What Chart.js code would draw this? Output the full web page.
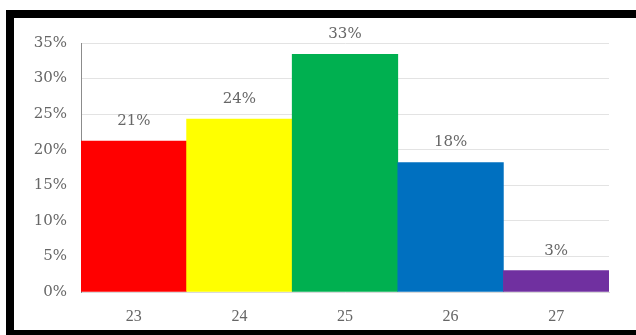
<!DOCTYPE html>
<html>
<head>
<meta charset="utf-8">
<script src="https://cdn.jsdelivr.net/npm/chart.js@4"></script>
<style>
  html, body { margin: 0; padding: 0; background: #fff; overflow: hidden; }
  /* black frame: top, left and bottom edges, right side runs off the picture */
  #frame {
    position: absolute;
    left: 6px; top: 10px;
    width: 640px; height: 328px;
    box-sizing: border-box;
    border: 8px solid #000;
    border-right: none;
    background: #fff;
  }
  #myChart { display: block; }
</style>
</head>
<body>
<div id="frame">
  <canvas id="myChart" width="622" height="312"></canvas>
</div>
<script>
// data
const ages = ["23", "24", "25", "26", "27"];          // x-axis categories
const shares = [21.2, 24.3, 33.4, 18.2, 3.0];         // percent per category
const shareLabels = ["21%", "24%", "33%", "18%", "3%"]; // labels printed above bars
const barColors = ["#ff0000", "#ffff00", "#00b050", "#0070c0", "#7030a0"];
const yMax = 35;
const yStep = 5;

const textColor = "#666666";
// the percent texts in the picture are wide, DejaVu Serif gets closest
const pctFont = "'DejaVu Serif', serif";
const catFont = "'Liberation Serif', 'Times New Roman', serif";

// writes the percent label above each bar
const barLabels = {
    id: "barLabels",
    afterDatasetsDraw(chart) {
        const ctx = chart.ctx;
        const meta = chart.getDatasetMeta(0);
        ctx.save();
        ctx.font = "15px " + pctFont;
        ctx.fillStyle = textColor;
        ctx.textAlign = "center";
        ctx.textBaseline = "middle";
        meta.data.forEach((bar, i) => {
            ctx.fillText(shareLabels[i], bar.x, bar.y - 20);
        });
        ctx.restore();
    }
};

const config = {
    type: "bar",
    data: {
        labels: ages,
        datasets: [{
            data: shares,
            backgroundColor: barColors,
            borderWidth: 0,
            barPercentage: 1,
            categoryPercentage: 1
        }]
    },
    options: {
        responsive: false,
        animation: false,
        devicePixelRatio: 1,
        layout: {
            padding: { left: 0, top: 25, right: 27, bottom: 0 }
        },
        plugins: {
            legend: { display: false },
            tooltip: { enabled: false }
        },
        scales: {
            x: {
                grid: { display: false },
                border: { display: true, color: "#d9d9d9" },
                ticks: {
                    color: textColor,
                    font: { family: catFont, size: 16 },
                    padding: 7
                },
                afterFit(scale) { scale.height = 38; }
            },
            y: {
                min: 0,
                max: yMax,
                grid: { color: "#e3e3e3", lineWidth: 1, drawTicks: false },
                border: { display: true, color: "#8c8c8c" },
                ticks: {
                    stepSize: yStep,
                    color: textColor,
                    font: { family: pctFont, size: 15 },
                    padding: 14,
                    callback: v => v + "%"
                },
                afterFit(scale) { scale.width = 67; }
            }
        }
    },
    plugins: [barLabels]
};

const ctx = document.getElementById("myChart").getContext("2d");
const myChart = new Chart(ctx, config);
</script>
</body>
</html>
